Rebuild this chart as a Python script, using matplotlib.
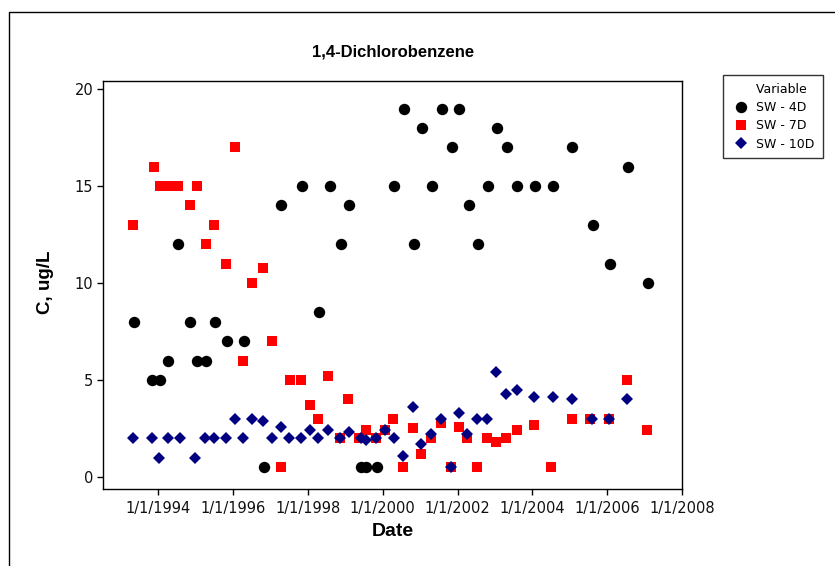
import matplotlib
matplotlib.use("Agg")
import matplotlib.pyplot as plt
import matplotlib.dates as mdates
from matplotlib.lines import Line2D
from matplotlib.ticker import FuncFormatter
import pandas as pd

# Sampling dates and concentrations (ug/L) per monitoring well
sw4d_dates = [
    "1993-05-05", "1993-11-03", "1994-01-19", "1994-04-09", "1994-07-16", "1994-11-06",
    "1995-01-15", "1995-04-13", "1995-07-05", "1995-10-30", "1996-04-16", "1996-10-27",
    "1997-04-13", "1997-11-03", "1998-04-16", "1998-07-31", "1998-11-17", "1999-02-10",
    "1999-05-30", "1999-07-24", "1999-11-07", "2000-04-23", "2000-07-31", "2000-11-06",
    "2001-01-15", "2001-04-27", "2001-07-31", "2001-11-10", "2002-01-19", "2002-04-23",
    "2002-07-24", "2002-10-27", "2003-01-19", "2003-04-27", "2003-08-07", "2004-01-23",
    "2004-07-24", "2005-01-23", "2005-08-11", "2006-01-26", "2006-07-27", "2007-01-30",
]
sw4d_conc = [
    8, 5, 5, 6, 12, 8,
    6, 6, 8, 7, 7, 0.5,
    14, 15, 8.5, 15, 12, 14,
    0.5, 0.5, 0.5, 15, 19, 12,
    18, 15, 19, 17, 19, 14,
    12, 15, 18, 17, 15, 15,
    15, 17, 13, 11, 16, 10,
]

sw7d_dates = [
    "1993-05-01", "1993-11-18", "1994-01-19", "1994-04-09", "1994-07-16", "1994-11-06",
    "1995-01-12", "1995-04-09", "1995-07-02", "1995-10-23", "1996-01-15", "1996-04-09",
    "1996-07-02", "1996-10-23", "1997-01-15", "1997-04-13", "1997-07-05", "1997-10-27",
    "1998-01-19", "1998-04-13", "1998-07-20", "1998-11-10", "1999-01-23", "1999-05-19",
    "1999-07-24", "1999-10-30", "2000-01-26", "2000-04-09", "2000-07-20", "2000-10-27",
    "2001-01-05", "2001-04-20", "2001-07-27", "2001-10-30", "2002-01-12", "2002-04-06",
    "2002-07-13", "2002-10-20", "2003-01-15", "2003-04-23", "2003-07-31", "2004-01-15",
    "2004-07-02", "2005-01-19", "2005-07-20", "2006-01-19", "2006-07-09", "2007-01-23",
]
sw7d_conc = [
    13, 16, 15, 15, 15, 14,
    15, 12, 13, 11, 17, 6,
    10, 10.8, 7, 0.5, 5, 5,
    3.7, 3, 5.2, 2, 4, 2,
    2.4, 2, 2.4, 3, 0.5, 2.5,
    1.2, 2, 2.8, 0.5, 2.6, 2,
    0.5, 2, 1.8, 2, 2.4, 2.7,
    0.5, 3, 3, 3, 5, 2.4,
]

sw10d_dates = [
    "1993-05-01", "1993-10-30", "1994-01-08", "1994-04-06", "1994-07-27", "1994-12-28",
    "1995-04-02", "1995-07-02", "1995-10-23", "1996-01-15", "1996-04-09", "1996-07-02",
    "1996-10-23", "1997-01-15", "1997-04-13", "1997-07-02", "1997-10-27", "1998-01-19",
    "1998-04-13", "1998-07-20", "1998-11-10", "1999-02-02", "1999-05-30", "1999-07-24",
    "1999-10-30", "2000-01-26", "2000-04-16", "2000-07-20", "2000-10-27", "2001-01-05",
    "2001-04-20", "2001-07-27", "2001-10-30", "2002-01-12", "2002-04-06", "2002-07-13",
    "2002-10-20", "2003-01-15", "2003-04-20", "2003-07-31", "2004-01-15", "2004-07-16",
    "2005-01-19", "2005-08-04", "2006-01-19", "2006-07-09",
]
sw10d_conc = [
    2, 2, 1, 2, 2, 1,
    2, 2, 2, 3, 2, 3,
    2.9, 2, 2.6, 2, 2, 2.4,
    2, 2.4, 2, 2.3, 2, 1.9,
    2, 2.4, 2, 1.1, 3.6, 1.7,
    2.2, 3, 0.5, 3.3, 2.2, 3,
    3, 5.4, 4.3, 4.5, 4.1, 4.1,
    4, 3, 3, 4,
]

W, H = 835, 566
fig = plt.figure(figsize=(W / 100, H / 100), dpi=100)
ax = fig.add_axes([103 / W, 1 - 489 / H, (682 - 103) / W, (489 - 81) / H])

ax.plot(pd.to_datetime(sw4d_dates), sw4d_conc, ls="none", marker="o", ms=8.2,
        color="black", mew=0, label="SW-4D", zorder=3)
ax.plot(pd.to_datetime(sw7d_dates), sw7d_conc, ls="none", marker="s", ms=7.0,
        color="#FF0000", mew=0, label="SW-7D", zorder=4)
ax.plot(pd.to_datetime(sw10d_dates), sw10d_conc, ls="none", marker="D", ms=6.6,
        color="#000080", mew=0, label="SW-10D", zorder=5)

ax.set_xlim(pd.Timestamp("1992-07-10"), pd.Timestamp("2008-01-01"))
ax.set_ylim(-0.62, 20.42)
ax.set_yticks([0, 5, 10, 15, 20])
ax.xaxis.set_major_locator(mdates.YearLocator(2))
ax.xaxis.set_major_formatter(FuncFormatter(
    lambda v, pos: "{d.month}/{d.day}/{d.year}".format(d=mdates.num2date(v))))

ax.tick_params(axis="both", direction="out", length=4, width=1, color="black",
               labelsize=10.5, labelcolor="#111111", pad=3)
ax.tick_params(axis="x", pad=5)
for s in ax.spines.values():
    s.set_linewidth(1.0)
    s.set_color("black")

bold = dict(family="Liberation Sans", weight="bold")
fig.text(393 / W, 1 - 52 / H, "1,4-Dichlorobenzene", ha="center", va="center",
         fontsize=12, **bold)
fig.text(393 / W, 1 - 532 / H, "Date", ha="center", va="center", fontsize=14, **bold)
fig.text(45 / W, 1 - 282 / H, "C, ug/L", ha="center", va="center", rotation=90,
         fontsize=13.5, **bold)

# legend: first row is a handle-less "Variable" caption aligned with the labels
handles, labels = ax.get_legend_handles_labels()
blank = Line2D([], [], ls="none", marker="none")
leg = fig.legend([blank] + handles, ["Variable  ", "SW - 4D", "SW - 7D", "SW - 10D"],
                 loc="upper left", bbox_to_anchor=(723 / W, 1 - 75 / H),
                 frameon=True, fancybox=False, edgecolor="black", fontsize=9,
                 handlelength=1.7, handletextpad=0.36, borderpad=0.6,
                 labelspacing=0.43, borderaxespad=0)
leg.get_frame().set_linewidth(1.0)

# outer frame lines along the top and left edges
fig.add_artist(Line2D([9 / W, 9 / W, 1], [0, 1 - 12 / H, 1 - 12 / H],
                      transform=fig.transFigure, color="black", lw=1.0))

fig.savefig("out.png", dpi=100)
